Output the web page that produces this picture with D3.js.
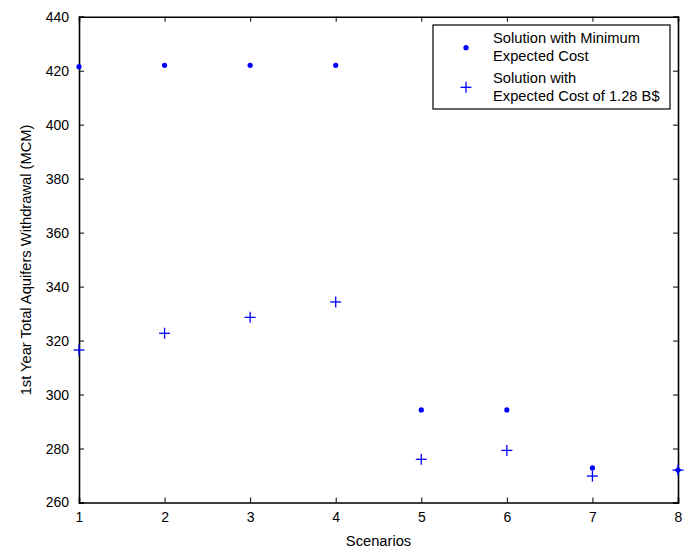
<!DOCTYPE html>
<html>
<head>
<meta charset="utf-8">
<script src="https://cdn.jsdelivr.net/npm/d3@7"></script>
<style>
  body { margin: 0; background: #fff; }
  svg text { font-family: "Liberation Sans", Arial, Helvetica, sans-serif; fill: #000; }
  .axis path, .axis line { stroke: #000; }
</style>
</head>
<body>
<div id="chart"></div>
<script>
var scenarios = [1, 2, 3, 4, 5, 6, 7, 8];
var minCost = [421.5, 422, 422, 422, 294.3, 294.3, 272.8, 272];
var cost128 = [316.5, 322.7, 328.6, 334.3, 276, 279.3, 269.8, 272];
var yTicks = [260, 280, 300, 320, 340, 360, 380, 400, 420, 440];
var legendLabels = [["Solution with Minimum", "Expected Cost"], ["Solution with", "Expected Cost of 1.28 B$"]];

var width = 693, height = 548;
var margin = {top: 16.7, right: 15, bottom: 45.5, left: 79};

var svg = d3.select("#chart").append("svg")
    .attr("width", width)
    .attr("height", height);

var x = d3.scaleLinear().domain([1, 8]).range([margin.left, width - margin.right]);
var y = d3.scaleLinear().domain([260, 440]).range([height - margin.bottom, margin.top]);

var blue = "#0000ff";

// mirrored axes, ticks pointing inwards
svg.append("g").attr("class", "axis")
    .attr("transform", "translate(0," + y(260) + ")")
    .call(d3.axisBottom(x).tickValues(scenarios).tickSize(-5).tickPadding(10).tickFormat(d3.format("d")));
svg.append("g").attr("class", "axis")
    .attr("transform", "translate(0," + y(440) + ")")
    .call(d3.axisTop(x).tickValues(scenarios).tickSize(-5).tickFormat(""));
svg.append("g").attr("class", "axis")
    .attr("transform", "translate(" + x(1) + ",0)")
    .call(d3.axisLeft(y).tickValues(yTicks).tickSize(-5).tickPadding(10));
svg.append("g").attr("class", "axis")
    .attr("transform", "translate(" + x(8) + ",0)")
    .call(d3.axisRight(y).tickValues(yTicks).tickSize(-5).tickFormat(""));

svg.selectAll(".axis path").attr("stroke-width", 1.6);
svg.selectAll(".axis line").attr("stroke-width", 1);
svg.selectAll(".axis text").style("font-size", "14px").attr("fill", "#000");

// axis titles
svg.append("text")
    .attr("x", (x(1) + x(8)) / 2)
    .attr("y", 546)
    .attr("text-anchor", "middle")
    .style("font-size", "14.7px")
    .text("Scenarios");

svg.append("text")
    .attr("transform", "translate(30.5,260) rotate(-90)")
    .attr("text-anchor", "middle")
    .style("font-size", "14.7px")
    .text("1st Year Total Aquifers Withdrawal (MCM)");

// points
svg.selectAll(".dot")
    .data(scenarios)
  .enter().append("circle")
    .attr("class", "dot")
    .attr("cx", function(d){ return x(d); })
    .attr("cy", function(d, i){ return y(minCost[i]); })
    .attr("r", 2.6)
    .attr("fill", blue);

function plus(sel, s){
  sel.append("line").attr("x1", -s).attr("x2", s).attr("y1", 0).attr("y2", 0);
  sel.append("line").attr("x1", 0).attr("x2", 0).attr("y1", -s).attr("y2", s);
}

svg.selectAll(".plus")
    .data(scenarios)
  .enter().append("g")
    .attr("class", "plus")
    .attr("transform", function(d, i){ return "translate(" + x(d) + "," + y(cost128[i]) + ")"; })
    .attr("stroke", blue)
    .attr("stroke-width", 1.3)
    .each(function(){ plus(d3.select(this), 5.5); });

// legend
var legend = svg.append("g").attr("transform", "translate(433,25)");
legend.append("rect")
    .attr("width", 237).attr("height", 84)
    .attr("fill", "#fff").attr("stroke", "#000").attr("stroke-width", 1.2);

legend.append("circle").attr("cx", 33).attr("cy", 22.7).attr("r", 2.6).attr("fill", blue);
legend.append("g").attr("transform", "translate(33,62.3)")
    .attr("stroke", blue).attr("stroke-width", 1.3)
    .call(plus, 5.5);

legendLabels.forEach(function(lines, i){
  lines.forEach(function(t, j){
    legend.append("text")
      .attr("x", 60)
      .attr("y", 18 + i * 40 + j * 18.3)
      .style("font-size", "14.7px")
      .text(t);
  });
});
</script>
</body>
</html>
